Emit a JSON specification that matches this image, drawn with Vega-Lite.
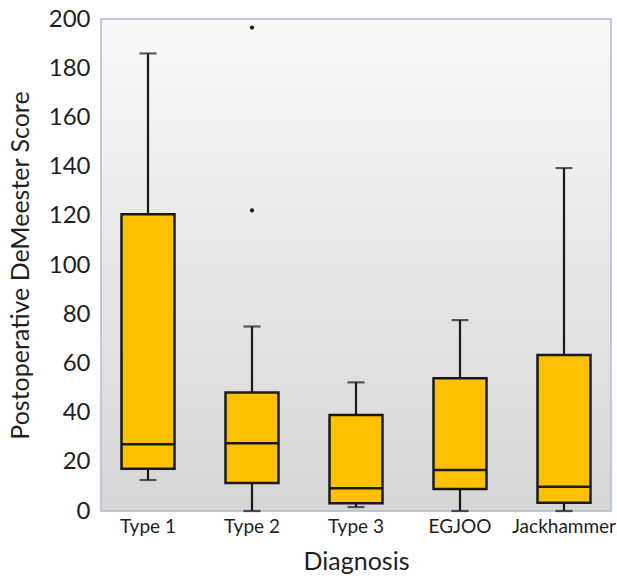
{
  "$schema": "https://vega.github.io/schema/vega-lite/v6.json",
  "autosize": "none",
  "width": 510,
  "height": 492,
  "padding": {"left": 101, "top": 19, "right": 6, "bottom": 68},
  "background": "white",
  "datasets": {
    "boxes": [
      {"diagnosis": "Type 1", "min": 12.6, "q1": 17.2, "median": 27.1, "q3": 120.6, "max": 186},
      {"diagnosis": "Type 2", "min": 0, "q1": 11.4, "median": 27.5, "q3": 48.2, "max": 75},
      {"diagnosis": "Type 3", "min": 1.6, "q1": 3.1, "median": 9.2, "q3": 39, "max": 52.3},
      {"diagnosis": "EGJOO", "min": 0, "q1": 8.9, "median": 16.7, "q3": 54, "max": 77.6},
      {"diagnosis": "Jackhammer", "min": 0, "q1": 3.4, "median": 9.9, "q3": 63.4, "max": 139.4}
    ],
    "outliers": [
      {"diagnosis": "Type 2", "value": 196.5},
      {"diagnosis": "Type 2", "value": 122.2}
    ]
  },
  "config": {
    "view": {
      "fill": {"gradient": "linear", "x1": 0, "y1": 0, "x2": 0, "y2": 1,
        "stops": [{"offset": 0, "color": "#f8f8f8"}, {"offset": 1, "color": "#d6d6d6"}]},
      "stroke": "#a9bccf",
      "strokeWidth": 1.5
    },
    "axis": {
      "labelFont": "Lato",
      "titleFont": "Lato",
      "labelColor": "#1f1f1f",
      "titleColor": "#1f1f1f",
      "titleFontWeight": "normal",
      "grid": false,
      "domain": false,
      "ticks": false
    }
  },
  "layer": [
    {
      "data": {"name": "boxes"},
      "mark": {"type": "rule", "color": "#1a1a1a", "strokeWidth": 2.2},
      "encoding": {
        "x": {"field": "diagnosis", "type": "nominal", "sort": null,
          "scale": {"type": "band", "paddingInner": 0.49, "paddingOuter": 0.197},
          "axis": {"title": "Diagnosis", "labelAngle": 0, "labelFontSize": 19, "labelPadding": 6, "titleFontSize": 25, "titlePadding": 13}},
        "y": {"field": "min", "type": "quantitative",
          "scale": {"domain": [0, 200], "nice": false},
          "axis": {"title": "Postoperative DeMeester Score", "values": [0, 20, 40, 60, 80, 100, 120, 140, 160, 180, 200],
            "labelFontSize": 24, "labelPadding": 11, "titleFontSize": 25, "titleX": -73, "titleBaseline": "alphabetic"}},
        "y2": {"field": "max"}
      }
    },
    {
      "data": {"name": "boxes"},
      "mark": {"type": "tick", "color": "#1a1a1a", "thickness": 2.2, "size": 17, "orient": "horizontal"},
      "encoding": {
        "x": {"field": "diagnosis", "type": "nominal", "sort": null},
        "y": {"field": "max", "type": "quantitative"}
      }
    },
    {
      "data": {"name": "boxes"},
      "mark": {"type": "tick", "color": "#1a1a1a", "thickness": 2.2, "size": 17, "orient": "horizontal"},
      "encoding": {
        "x": {"field": "diagnosis", "type": "nominal", "sort": null},
        "y": {"field": "min", "type": "quantitative"}
      }
    },
    {
      "data": {"name": "boxes"},
      "mark": {"type": "bar", "fill": "#ffc000", "stroke": "#1a1a1a", "strokeWidth": 2.5, "size": 53},
      "encoding": {
        "x": {"field": "diagnosis", "type": "nominal", "sort": null},
        "y": {"field": "q1", "type": "quantitative"},
        "y2": {"field": "q3"}
      }
    },
    {
      "data": {"name": "boxes"},
      "mark": {"type": "bar", "fill": "#1a1a1a", "stroke": "#1a1a1a", "strokeWidth": 2.5, "size": 53},
      "encoding": {
        "x": {"field": "diagnosis", "type": "nominal", "sort": null},
        "y": {"field": "median", "type": "quantitative"},
        "y2": {"field": "median"}
      }
    },
    {
      "data": {"name": "outliers"},
      "mark": {"type": "circle", "color": "#1a1a1a", "size": 18, "opacity": 1},
      "encoding": {
        "x": {"field": "diagnosis", "type": "nominal", "sort": null},
        "y": {"field": "value", "type": "quantitative"}
      }
    }
  ]
}
